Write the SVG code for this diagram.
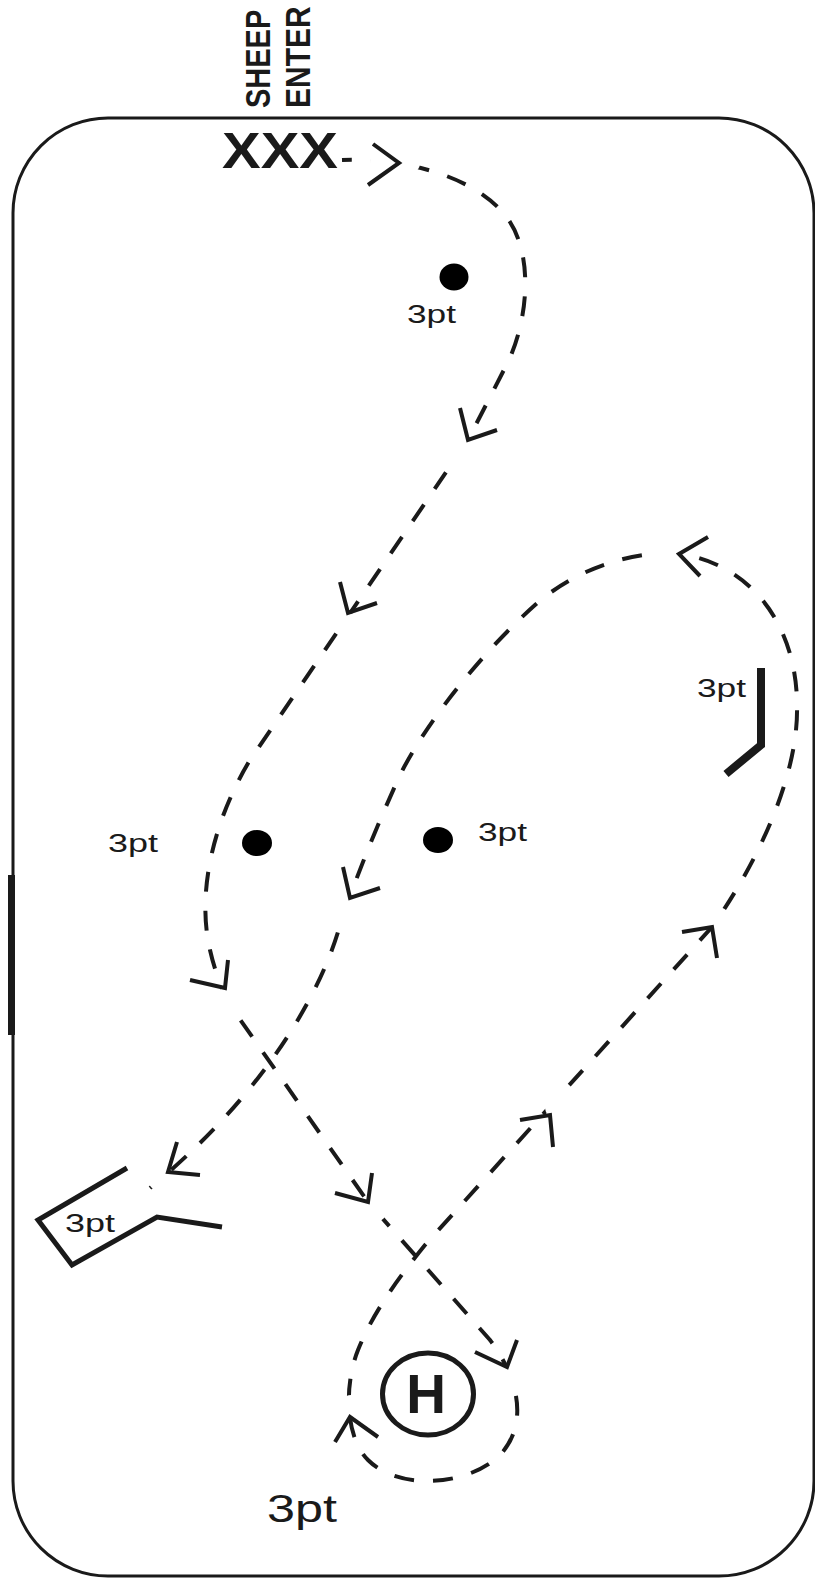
<svg xmlns="http://www.w3.org/2000/svg" width="815" height="1579" viewBox="0 0 815 1579">
<style>
.lbl{font-family:"Liberation Sans",Arial,sans-serif;font-size:26px;fill:#1a1a1a}
.bold{font-family:"Liberation Sans",Arial,sans-serif;font-weight:bold;fill:#1a1a1a}
.dash{fill:none;stroke:#1a1a1a;stroke-width:4;stroke-dasharray:20 19;stroke-dashoffset:10}
.arr{fill:none;stroke:#1a1a1a;stroke-width:4;stroke-linejoin:miter}
.dot{fill:#000}
.cut{fill:#000}
</style>
<defs>
<mask id="tips" maskUnits="userSpaceOnUse" x="0" y="0" width="815" height="1579">
<rect width="815" height="1579" fill="#fff"/>
<circle class="cut" cx="389" cy="162" r="19"/>
<circle class="cut" cx="409" cy="163" r="11"/>
<circle class="cut" cx="462" cy="449" r="12"/>
<circle class="cut" cx="342" cy="621" r="12"/>
<circle class="cut" cx="230" cy="997" r="12"/>
<circle class="cut" cx="375" cy="1210" r="12"/>
<circle class="cut" cx="512" cy="1376" r="12"/>
<circle class="cut" cx="351" cy="1407" r="12"/>
<circle class="cut" cx="557" cy="1107" r="12"/>
<circle class="cut" cx="718" cy="919" r="12"/>
<circle class="cut" cx="669" cy="553" r="12"/>
<circle class="cut" cx="347" cy="908" r="12"/>
<circle class="cut" cx="160" cy="1179" r="12"/>
</mask>
</defs>
<rect width="815" height="1579" fill="#fff"/>
<g id="field">
<rect x="13" y="118" width="801" height="1458" rx="95" ry="95" fill="none" stroke="#1a1a1a" stroke-width="3"/>
<rect x="8" y="875" width="7" height="160" fill="#1a1a1a"/>
</g>
<g id="start">
<text class="bold" font-size="29" transform="translate(270,108) rotate(-90) scale(1,1.2)">SHEEP</text>
<text class="bold" font-size="30" transform="translate(310,108) rotate(-90) scale(1,1.15)">ENTER</text>
<text class="bold" font-size="50" x="222" y="168" textLength="116" lengthAdjust="spacingAndGlyphs">XXX</text>
</g>
<g id="obstacle-top">
<ellipse class="dot" cx="454" cy="277" rx="14.5" ry="13.5"/>
<text class="lbl" x="407" y="323" textLength="49" lengthAdjust="spacingAndGlyphs">3pt</text>
</g>
<g id="obstacle-left">
<ellipse class="dot" cx="257" cy="843" rx="15" ry="13"/>
<text class="lbl" x="108" y="852" textLength="50" lengthAdjust="spacingAndGlyphs">3pt</text>
</g>
<g id="obstacle-mid">
<ellipse class="dot" cx="438" cy="840" rx="15" ry="13"/>
<text class="lbl" x="478" y="841" textLength="49" lengthAdjust="spacingAndGlyphs">3pt</text>
</g>
<g id="obstacle-right">
<polyline points="761,668 761,745 726,774" fill="none" stroke="#1a1a1a" stroke-width="8"/>
<text class="lbl" x="697" y="697" textLength="49" lengthAdjust="spacingAndGlyphs">3pt</text>
</g>
<g id="obstacle-pen">
<polyline points="127,1168 38,1220 72,1265 157,1217 222,1227" fill="none" stroke="#1a1a1a" stroke-width="5"/>
<text class="lbl" x="65" y="1232" textLength="50" lengthAdjust="spacingAndGlyphs">3pt</text>
</g>
<g id="hold">
<ellipse cx="428" cy="1394" rx="45.5" ry="41" fill="none" stroke="#1a1a1a" stroke-width="5"/>
<text class="bold" font-size="55" x="426" y="1413" text-anchor="middle">H</text>
</g>
<g id="label-bottom">
<text class="lbl" x="267" y="1522" textLength="70" lengthAdjust="spacingAndGlyphs" style="font-size:39px">3pt</text>
</g>
<g id="connectors">
<path class="dash" mask="url(#tips)" d="M342,160 C395,158 470,172 505,215 C535,252 528,320 508,362 L468,440 L250,760 C215,818 196,890 210,950 C215,972 222,990 232,1008 L368,1202 L490,1340 C520,1380 528,1425 500,1455 C470,1485 400,1492 368,1460 C345,1437 344,1385 358,1350 C372,1315 395,1282 425,1245 L712,927 C758,862 799,775 797,705 C797,630 755,565 680,554 C640,550 580,565 535,605 C490,645 430,715 400,775 C375,830 355,880 340,925 C325,980 275,1085 150,1188"/>
<polyline class="arr" points="373,144 399,163 368,185"/>
<polyline class="arr" points="460,408 468,440 497,430"/>
<polyline class="arr" points="340,582 348,613 377,603"/>
<polyline class="arr" points="190,980 225,988 228,960"/>
<polyline class="arr" points="335,1193 368,1202 372,1173"/>
<polyline class="arr" points="475,1352 507,1367 517,1340"/>
<polyline class="arr" points="335,1442 350,1417 378,1437"/>
<polyline class="arr" points="520,1120 550,1115 553,1147"/>
<polyline class="arr" points="682,932 712,927 717,958"/>
<polyline class="arr" points="708,537 679,554 700,576"/>
<polyline class="arr" points="343,867 350,898 380,888"/>
<polyline class="arr" points="177,1142 168,1172 200,1175"/>
</g>
</svg>
